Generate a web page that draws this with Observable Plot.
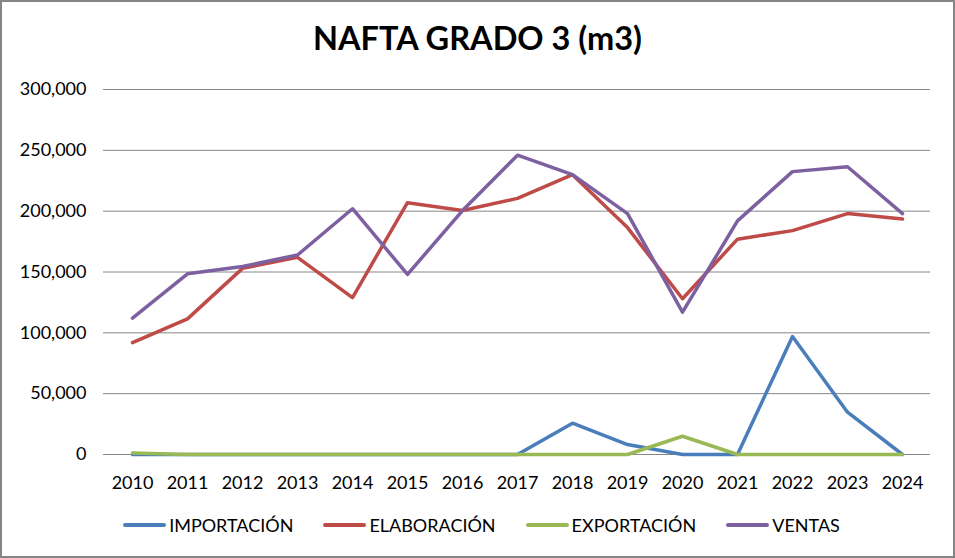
<!DOCTYPE html>
<html>
<head>
<meta charset="utf-8">
<script src="https://cdn.jsdelivr.net/npm/d3@7"></script>
<script src="https://cdn.jsdelivr.net/npm/@observablehq/plot@0.6"></script>
<style>
  html, body { margin: 0; padding: 0; background: #fff; }
  #chart { position: relative; width: 955px; height: 558px; background: #fff; overflow: hidden; font-family: Lato, "Open Sans", sans-serif; }
  #border { position: absolute; left: 0; top: 0; right: 0; bottom: 0; border: 2.5px solid #858585; box-sizing: border-box; pointer-events: none; }
  #title { position: absolute; left: 0; width: 955px; top: 22px; text-align: center; font-size: 32.5px; line-height: 32px; font-weight: bold; color: #000; }
  #plot { position: absolute; left: 0; top: 0; }
  #legend { position: absolute; left: 4px; width: 955px; top: 513px; height: 24px; display: flex; justify-content: center; align-items: center; gap: 30px; font-size: 18px; line-height: 24px; color: #000; }
  .item { display: flex; align-items: center; }
  .swatch { width: 43px; height: 3.5px; border-radius: 2px; margin-right: 3px; }
</style>
</head>
<body>
<div id="chart">
  <div id="plot"></div>
  <div id="title">NAFTA GRADO 3 (m3)</div>
  <div id="legend"></div>
  <div id="border"></div>
</div>
<script>
const years = ["2010","2011","2012","2013","2014","2015","2016","2017","2018","2019","2020","2021","2022","2023","2024"];
const importacion = [0,0,0,0,0,0,0,0,25700,8200,0,0,97000,34800,0];
const elaboracion = [92000,111500,153000,162000,129000,207000,200500,210500,230000,186500,128000,177000,184000,198000,193500];
const exportacion = [1200,0,0,0,0,0,0,0,0,0,15000,0,0,0,0];
const ventas = [112000,148500,154500,164000,202000,148000,200500,246000,230000,198000,117000,192000,232500,236500,198000];
const seriesNames = ["IMPORTACIÓN","ELABORACIÓN","EXPORTACIÓN","VENTAS"];
const seriesColors = ["#4A7EBB","#BE4B48","#98B954","#7D60A0"];
const yTicks = [0,50000,100000,150000,200000,250000,300000];

const allSeries = [importacion, elaboracion, exportacion, ventas];
const data = [];
allSeries.forEach((vals, si) => vals.forEach((v, i) => data.push({year: years[i], value: v, series: seriesNames[si]})));

const plot = Plot.plot({
  width: 955,
  height: 500,
  marginTop: 89,
  marginBottom: 46,
  marginLeft: 103,
  marginRight: 25,
  style: {fontFamily: "Lato, 'Open Sans', sans-serif", fontSize: "18px", color: "#000", background: "transparent"},
  x: {type: "point", domain: years, padding: 0.5},
  y: {domain: [0, 300000]},
  color: {domain: seriesNames, range: seriesColors},
  marks: [
    Plot.ruleY(yTicks, {stroke: "#868686", strokeWidth: 1, strokeOpacity: 1}),
    Plot.axisY({ticks: yTicks, tickFormat: d3.format(","), tickSize: 0, tickPadding: 17, label: null, fontSize: 18}),
    Plot.axisX({tickSize: 0, tickPadding: 22, label: null, fontSize: 18}),
    Plot.line(data, {x: "year", y: "value", z: "series", stroke: "series", strokeWidth: 3.5, strokeLinejoin: "round", strokeLinecap: "round"})
  ]
});
document.getElementById("plot").appendChild(plot);

const legend = document.getElementById("legend");
seriesNames.forEach((name, i) => {
  const item = document.createElement("div");
  item.className = "item";
  const sw = document.createElement("div");
  sw.className = "swatch";
  sw.style.background = seriesColors[i];
  const label = document.createElement("span");
  label.textContent = name;
  item.appendChild(sw);
  item.appendChild(label);
  legend.appendChild(item);
});
</script>
</body>
</html>
